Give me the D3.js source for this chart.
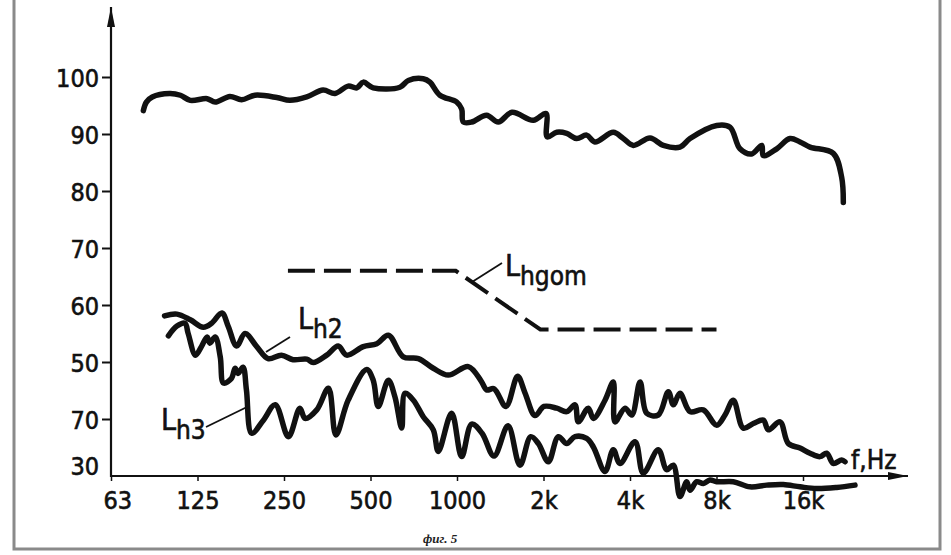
<!DOCTYPE html>
<html>
<head>
<meta charset="utf-8">
<script src="https://cdn.jsdelivr.net/npm/d3@7"></script>
<style>
  body { margin: 0; background: #fff; }
  svg { display: block; }
  .lbl {
    font-family: "Liberation Sans Narrow", "DejaVu Sans Condensed", sans-serif;
    fill: #111;
    stroke: #111;
    stroke-width: 0.6px;
  }
</style>
</head>
<body>
<div id="chart"></div>
<script>
// tick values / labels (the "70" at 40 dB is how the original is printed)
const freqTicks = [62.5, 125, 250, 500, 1000, 2000, 4000, 8000, 16000];
const freqLabels = ["63", "125", "250", "500", "1000", "2k", "4k", "8k", "16k"];
const levelTicks = [30, 40, 50, 60, 70, 80, 90, 100];
const levelLabels = ["30", "70", "50", "60", "70", "80", "90", "100"];

// total level, top curve [Hz, dB]
const totalLevel = [
  [81, 94.1], [83, 95.6], [87, 96.5], [100, 97.1], [109, 96.8], [118, 95.9],
  [135, 96.2], [144, 95.6], [162, 96.6], [178, 96.0], [198, 96.8], [236, 96.4],
  [262, 95.9], [300, 96.5], [342, 97.7], [376, 97.1], [418, 98.4], [448, 98.1],
  [472, 99.1], [511, 98.1], [633, 98.2], [677, 99.4], [763, 99.7], [805, 99.1],
  [872, 96.8], [998, 95.6], [1038, 94.4], [1052, 92.1], [1125, 92.1], [1268, 93.3],
  [1392, 92.1], [1554, 93.8], [1843, 92.4], [2040, 93.6], [2060, 89.5], [2224, 90.3],
  [2409, 90.1], [2609, 89.2], [2826, 89.8], [3020, 88.6], [3499, 90.3], [3791, 89.2],
  [4108, 88.0], [4695, 89.3], [5224, 88.0], [5970, 87.7], [6470, 89.2], [8013, 91.5],
  [8914, 91.2], [9658, 87.4], [10608, 86.5], [11493, 88.0], [11642, 86.2], [12963, 87.4],
  [14419, 89.2], [15620, 88.6], [16925, 87.7], [20394, 86.6], [21811, 82.4], [22102, 78.0]
];

// L h2
const lh2 = [
  [96, 58.1], [106, 58.4], [118, 57.4], [131, 56.1], [140, 56.8], [152, 58.6],
  [160, 56.2], [171, 52.8], [183, 55.0], [201, 52.7], [220, 50.6], [245, 51.2],
  [269, 50.4], [300, 50.5], [316, 49.9], [352, 51.2], [386, 52.8], [413, 51.2],
  [472, 52.7], [526, 53.2], [577, 54.7], [650, 50.9], [734, 50.6], [827, 48.9],
  [932, 47.7], [1095, 49.2], [1212, 46.7], [1268, 45.1], [1345, 45.3], [1481, 42.2],
  [1625, 47.5], [1724, 44.6], [1869, 40.6], [2008, 42.2], [2224, 41.9], [2409, 41.3],
  [2574, 42.5], [2644, 39.5], [2864, 41.9], [2982, 40.1], [3274, 43.3], [3499, 46.5],
  [3547, 39.5], [3843, 41.9], [4057, 40.7], [4337, 46.5], [4574, 41.0], [5018, 40.7],
  [5437, 44.8], [5660, 42.5], [5970, 44.5], [6470, 41.3], [7195, 41.6], [8013, 38.9],
  [8564, 40.7], [9152, 43.3], [9918, 38.4], [10744, 39.2], [11642, 39.8], [12118, 38.1],
  [13307, 39.5], [14222, 35.7], [15620, 34.9], [16925, 34.0], [18340, 33.4], [19345, 34.0],
  [20394, 32.2], [21811, 32.8], [22406, 32.5]
];

// L h3
const lh3 = [
  [99, 54.6], [106, 56.3], [113, 56.8], [116, 55.0], [123, 51.2], [129, 52.7],
  [135, 54.4], [138, 53.3], [144, 54.4], [150, 50.9], [154, 46.3], [164, 47.1],
  [169, 48.9], [173, 48.0], [180, 49.1], [185, 45.1], [193, 37.5], [212, 39.8],
  [233, 42.5], [259, 36.9], [284, 41.9], [296, 40.1], [325, 41.6], [357, 45.4],
  [379, 37.2], [418, 43.3], [485, 48.7], [511, 46.8], [532, 42.2], [577, 46.8],
  [608, 43.9], [642, 38.4], [659, 44.5], [705, 43.3], [763, 40.4], [827, 38.1],
  [861, 34.3], [958, 41.0], [1038, 33.4], [1125, 39.1], [1222, 37.5], [1345, 33.5],
  [1505, 38.8], [1656, 31.9], [1806, 36.9], [1919, 35.7], [2079, 32.5], [2252, 36.9],
  [2409, 35.7], [2574, 36.9], [2826, 36.6], [2982, 35.1], [3274, 30.8], [3499, 34.6],
  [3691, 32.2], [4164, 36.0], [4450, 30.5], [5018, 34.6], [5368, 31.1], [5660, 31.9],
  [5970, 26.4], [6300, 29.0], [6470, 27.5], [6826, 29.0], [7195, 28.7], [7595, 29.3],
  [8013, 29.0], [9152, 29.0], [10462, 28.1], [11960, 28.4], [13662, 28.5], [15620, 28.1],
  [17852, 27.8], [20967, 28.0], [24269, 28.4]
];

// L hgom, the dashed limit
const lhgom = [[258, 66.0], [990, 66.0], [1950, 55.7], [8000, 55.7]];

const width = 951;
const height = 555;

const svg = d3
  .select("#chart")
  .append("svg")
  .attr("width", width)
  .attr("height", height);

const x = d3.scaleLog().domain([62.5, 16000]).range([111, 803]);
const y = d3.scaleLinear().domain([30, 100]).range([476, 77]);

// scan frame (left, bottom, right)
svg
  .append("path")
  .attr("d", "M14,0 V549 H940 V0")
  .attr("fill", "none")
  .attr("stroke", "#8a8a8a")
  .attr("stroke-width", 3);

// arrow heads
const defs = svg.append("defs");
defs
  .append("marker")
  .attr("id", "arrow")
  .attr("viewBox", "0 0 20 8")
  .attr("refX", 20)
  .attr("refY", 4)
  .attr("markerWidth", 20)
  .attr("markerHeight", 8)
  .attr("markerUnits", "userSpaceOnUse")
  .attr("orient", "auto")
  .append("path")
  .attr("d", "M0,0 L20,4 L0,8 Z")
  .attr("fill", "#111");

// axis lines
svg
  .append("line")
  .attr("x1", x(62.5))
  .attr("y1", y(30) + 1)
  .attr("x2", x(62.5))
  .attr("y2", 7)
  .attr("stroke", "#111")
  .attr("stroke-width", 2.2)
  .attr("marker-end", "url(#arrow)");

svg
  .append("line")
  .attr("x1", x(62.5) - 1)
  .attr("y1", y(30))
  .attr("x2", 908)
  .attr("y2", y(30))
  .attr("stroke", "#111")
  .attr("stroke-width", 2.2)
  .attr("marker-end", "url(#arrow)");

// y axis
const yAxis = svg
  .append("g")
  .attr("transform", `translate(${x(62.5)},0)`)
  .call(
    d3
      .axisLeft(y)
      .tickValues(levelTicks)
      .tickSize(9)
      .tickPadding(3)
      .tickFormat((d, i) => levelLabels[i])
  );
yAxis.select(".domain").remove();
yAxis.selectAll(".tick line").attr("stroke", "#111").attr("stroke-width", 2);
yAxis
  .selectAll(".tick text")
  .attr("class", "lbl")
  .attr("font-size", 25)
  .attr("dy", (d) => (d === 30 ? "-0.05em" : "0.36em"));
yAxis.selectAll(".tick").filter((d) => d === 30).select("line").remove();

// x axis
const xAxis = svg
  .append("g")
  .attr("transform", `translate(0,${y(30)})`)
  .call(
    d3
      .axisBottom(x)
      .tickValues(freqTicks)
      .tickSize(5)
      .tickPadding(10)
      .tickFormat((d, i) => freqLabels[i])
  );
xAxis.select(".domain").remove();
xAxis.selectAll(".tick line").attr("stroke", "#111").attr("stroke-width", 1.5);
xAxis
  .selectAll(".tick text")
  .attr("class", "lbl")
  .attr("font-size", 25)
  .attr("dx", (d) => (d === 62.5 ? "0.25em" : 0));

// curves
const line = d3
  .line()
  .x((d) => x(d[0]))
  .y((d) => y(d[1]))
  .curve(d3.curveCatmullRom.alpha(0.5));

[totalLevel, lh2, lh3].forEach((series) => {
  svg
    .append("path")
    .datum(series)
    .attr("fill", "none")
    .attr("stroke", "#111")
    .attr("stroke-width", 5.5)
    .attr("stroke-linejoin", "round")
    .attr("stroke-linecap", "round")
    .attr("d", line);
});

svg
  .append("path")
  .datum(lhgom)
  .attr("fill", "none")
  .attr("stroke", "#111")
  .attr("stroke-width", 4)
  .attr("stroke-dasharray", "27,9")
  .attr("d", d3.line().x((d) => x(d[0])).y((d) => y(d[1])));

// curve labels with leader lines
function curveLabel(tx, ty, sub, lx1, ly1, lx2, ly2) {
  svg
    .append("line")
    .attr("x1", lx1)
    .attr("y1", ly1)
    .attr("x2", lx2)
    .attr("y2", ly2)
    .attr("stroke", "#111")
    .attr("stroke-width", 1.8);
  const t = svg
    .append("text")
    .attr("class", "lbl")
    .attr("x", tx)
    .attr("y", ty)
    .attr("font-size", 30);
  t.append("tspan").text("L");
  t.append("tspan").attr("dy", 9).attr("font-size", 26).text(sub);
}

curveLabel(298, 329, "h2", 290, 337, 266, 352);
curveLabel(161, 430, "h3", 206, 427, 247, 407);
curveLabel(505, 276, "hgom", 502, 263, 472, 282);

// frequency unit
svg
  .append("text")
  .attr("class", "lbl")
  .attr("x", 851)
  .attr("y", 469)
  .attr("font-size", 26)
  .text("f,Hz");

// figure caption
svg
  .append("text")
  .attr("x", 423)
  .attr("y", 543)
  .attr("font-family", "Liberation Serif, serif")
  .attr("font-style", "italic")
  .attr("font-weight", "bold")
  .attr("font-size", 13)
  .attr("fill", "#222")
  .text("фиг. 5");
</script>
</body>
</html>
